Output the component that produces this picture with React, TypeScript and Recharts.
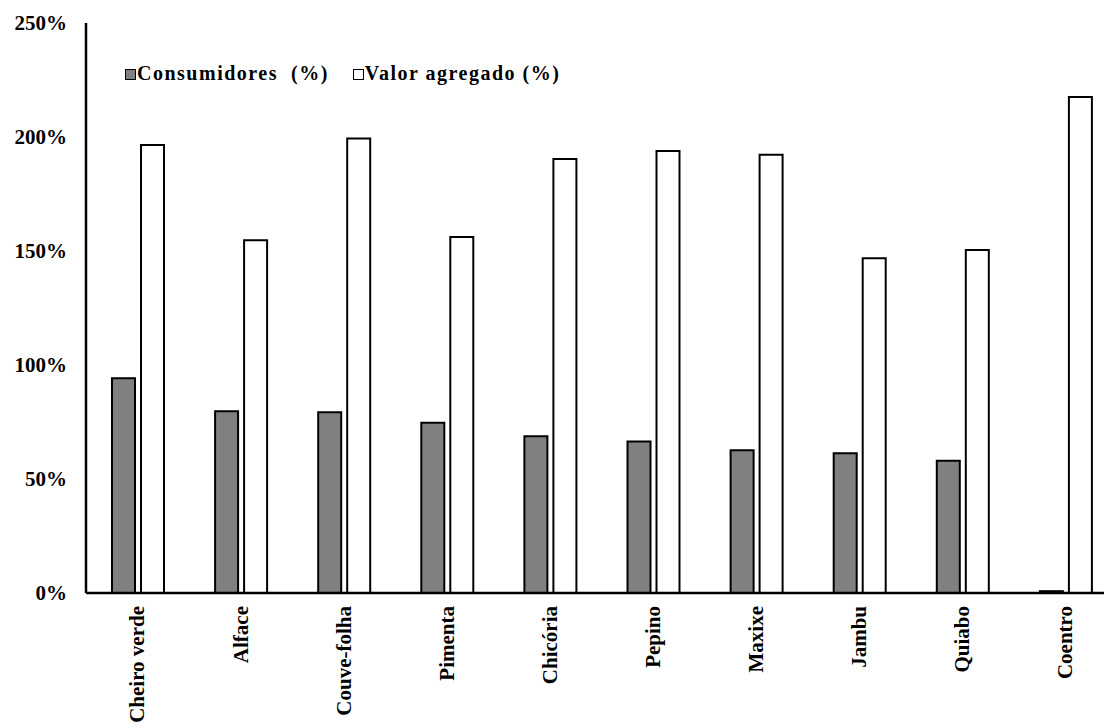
import React from 'react';
import { BarChart, Bar, XAxis, YAxis, Legend } from 'recharts';

const categories = ['Cheiro verde', 'Alface', 'Couve-folha', 'Pimenta', 'Chicória', 'Pepino', 'Maxixe', 'Jambu', 'Quiabo', 'Coentro'];
const consumidores = [94.2, 79.7, 79.3, 74.7, 68.7, 66.4, 62.6, 61.3, 58.0, 0.8];
const valorAgregado = [196.5, 154.7, 199.3, 156.1, 190.4, 193.9, 192.2, 146.8, 150.4, 217.5];
const yTicks = [0, 50, 100, 150, 200, 250];

const data = categories.map((c, i) => ({ name: c, consumidores: consumidores[i], valor: valorAgregado[i] }));

const FONT = '"Liberation Serif", "Times New Roman", serif';

const XTick = (props: any) => {
  const { x, y, payload } = props;
  return (
    <text
      transform={`translate(${x}, ${y + 5}) rotate(-90)`}
      textAnchor="end"
      dy="0.33em"
      style={{ fontFamily: FONT, fontWeight: 700, fontSize: 21 }}
      fill="#000"
    >
      {payload.value}
    </text>
  );
};

const LegendContent = (props: any) => {
  const { payload } = props;
  return (
    <div style={{ display: 'flex', alignItems: 'center', fontFamily: FONT, fontWeight: 700, fontSize: 20, letterSpacing: 1.5, color: '#000', whiteSpace: 'pre', lineHeight: '22px' }}>
      {(payload || []).map((entry: any, i: number) => (
        <div key={i} style={{ display: 'flex', alignItems: 'center', marginRight: 24 }}>
          <span style={{ display: 'inline-block', width: 9, height: 9, border: '1.5px solid #000', background: entry.color, marginRight: 1, marginTop: 2 }} />
          <span>{entry.value}</span>
        </div>
      ))}
    </div>
  );
};

export default function App() {
  return (
    <div style={{ position: 'absolute', left: 0, top: 0, width: 1104, height: 728, overflow: 'hidden', background: '#fff' }}>
      <BarChart
        width={1130}
        height={728}
        data={data}
        margin={{ top: 23, right: 13, left: 16, bottom: 0 }}
        barSize={23}
        barGap={6}
      >
        <XAxis
          dataKey="name"
          height={135}
          interval={0}
          tickLine={false}
          axisLine={{ stroke: '#000', strokeWidth: 2.5 }}
          tick={<XTick />}
        />
        <YAxis
          width={70}
          domain={[0, 250]}
          ticks={yTicks}
          tickFormatter={(v: number) => `${v}%`}
          tickLine={false}
          tickMargin={13}
          axisLine={{ stroke: '#000', strokeWidth: 2.5 }}
          tick={{ style: { fontFamily: FONT, fontWeight: 700, fontSize: 21 }, fill: '#000' }}
        />
        <Legend
          layout="horizontal"
          verticalAlign="middle"
          align="center"
          wrapperStyle={{ top: 62, left: 125, width: 'auto', height: 'auto' }}
          content={<LegendContent />}
        />
        <Bar dataKey="consumidores" name="Consumidores  (%)" fill="#808080" stroke="#000" strokeWidth={2} isAnimationActive={false} />
        <Bar dataKey="valor" name="Valor agregado (%)" fill="#ffffff" stroke="#000" strokeWidth={2} isAnimationActive={false} />
      </BarChart>
    </div>
  );
}
